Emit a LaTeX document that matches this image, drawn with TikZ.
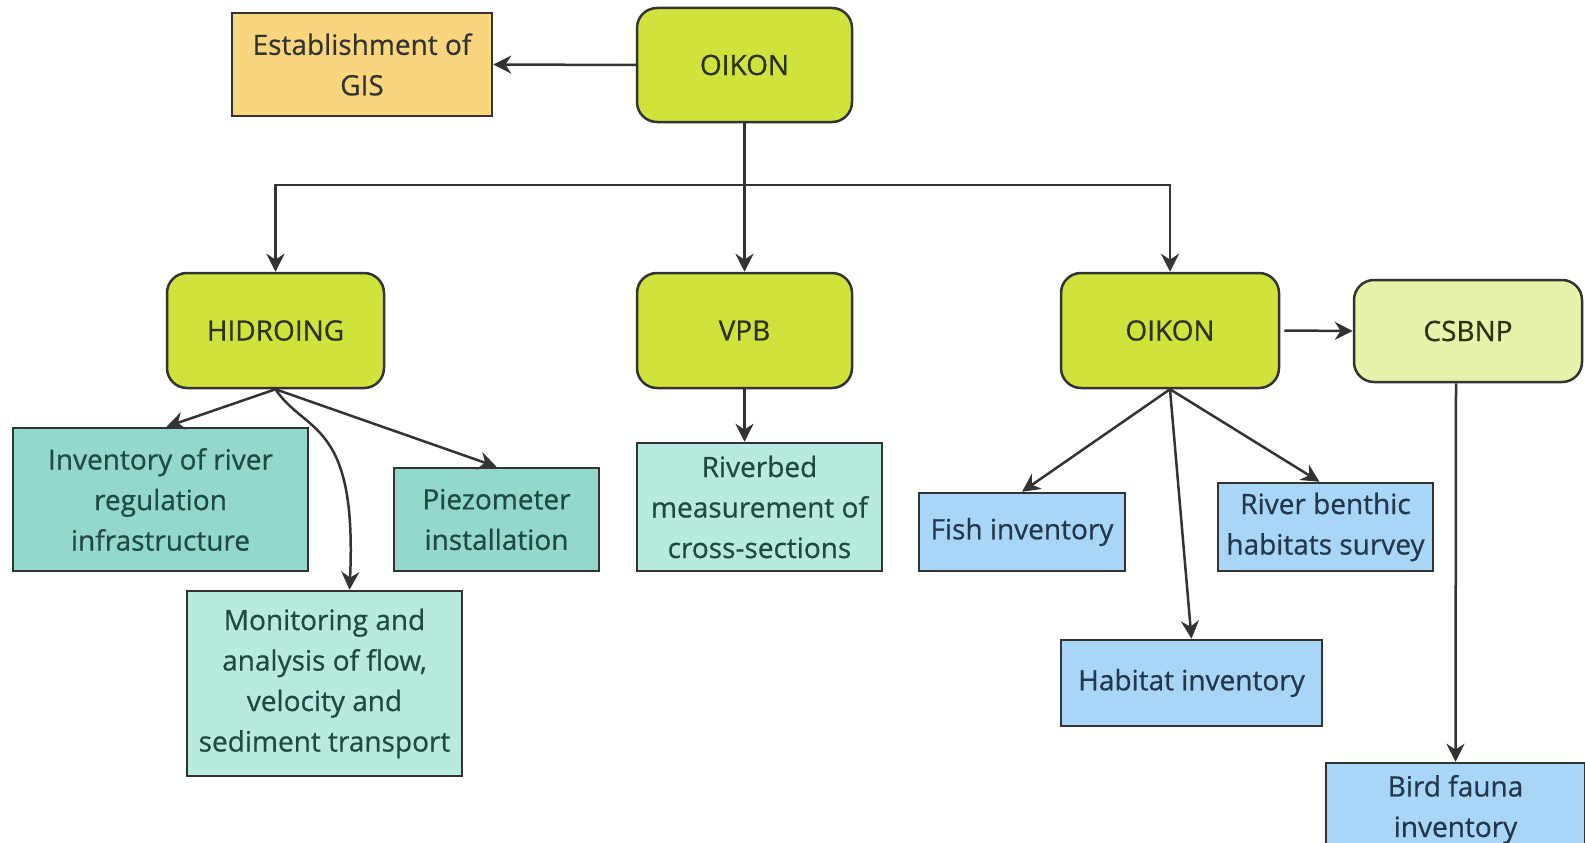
\documentclass[tikz,border=0pt]{standalone}
\usepackage{fontspec}
\setmainfont{Open Sans}[FakeBold=0.6]
\usepackage{tikz}
\usetikzlibrary{arrows.meta}

\definecolor{limegreen}{HTML}{D0E23C}
\definecolor{palelime}{HTML}{E7F3AB}
\definecolor{gisyellow}{HTML}{F9D67D}
\definecolor{darkteal}{HTML}{93D8CB}
\definecolor{lightteal}{HTML}{B8EAE0}
\definecolor{skyblue}{HTML}{A9D6F6}
\definecolor{edgegray}{HTML}{333333}
\definecolor{tealtext}{HTML}{1E4A42}
\definecolor{bluetext}{HTML}{22364D}
\definecolor{greentext}{HTML}{2A3312}

\begin{document}
\begin{tikzpicture}[x=1pt,y=-1pt,
	box/.style={draw=edgegray, line width=2.5pt, align=center, inner sep=0pt,
		font=\fontsize{28}{40.5}\selectfont},
	greenbox/.style={box, fill=limegreen, rounded corners=20pt, text=greentext},
	gisbox/.style={box, fill=gisyellow, text=black!80},
	tealbox/.style={box, fill=darkteal, text=tealtext},
	lighttealbox/.style={box, fill=lightteal, text=tealtext},
	bluebox/.style={box, fill=skyblue, text=bluetext},
	arr/.style={draw=edgegray, line width=2.5pt, -{Stealth[length=18pt,width=18pt]}}]
	\useasboundingbox (0,0) rectangle (1585,843);
	\node[gisbox, minimum width=260pt, minimum height=103pt] (gis) at (362,64.5) {Establishment of\\GIS};
	\node[greenbox, minimum width=215pt, minimum height=114pt] (oikonA) at (744.5,65) {OIKON};
	\node[greenbox, minimum width=217pt, minimum height=115pt] (hidroing) at (275.5,330.5) {HIDROING};
	\node[greenbox, minimum width=215pt, minimum height=115pt] (vpb) at (744.5,330.5) {VPB};
	\node[greenbox, minimum width=218pt, minimum height=115pt] (oikonB) at (1170,330.5) {OIKON};
	\node[greenbox, fill=palelime, minimum width=228pt, minimum height=102pt] (csbnp) at (1468,331) {CSBNP};
	
	\node[tealbox, minimum width=295pt, minimum height=143pt] (infra) at (160.5,499.5) {Inventory of river\\regulation\\infrastructure};
	\node[tealbox, minimum width=205pt, minimum height=103pt] (piezo) at (496.5,519.5) {Piezometer\\installation};
	\node[lighttealbox, minimum width=275pt, minimum height=185pt] (monit) at (324.5,683.5) {Monitoring and\\analysis of flow,\\velocity and\\sediment transport};
	\node[lighttealbox, minimum width=245pt, minimum height=128pt] (riverbed) at (759.5,507) {Riverbed\\measurement of\\cross-sections};
	
	\node[bluebox, minimum width=206pt, minimum height=78pt] (fish) at (1022,532) {Fish inventory};
	\node[bluebox, minimum width=215pt, minimum height=88pt] (benthic) at (1325.5,527) {River benthic\\habitats survey};
	\node[bluebox, minimum width=261pt, minimum height=86pt] (habitat) at (1191.5,683) {Habitat inventory};
	\node[bluebox, minimum width=259pt, minimum height=86pt, text depth=0pt] (bird) at (1455.5,806) {Bird fauna\\inventory};
	
	\coordinate (split) at (744.5,185);
	
	\draw[arr] (oikonA.west) -- (gis.east);
	\draw[arr] (oikonA.south) -- (vpb.north);
	\draw[arr] (split) -| (hidroing.north);
	\draw[arr] (split) -| (oikonB.north);
	
	\draw[arr] (hidroing.south) -- ([xshift=6pt]infra.north);
	\draw[arr] (hidroing.south) .. controls +(30,45) and +(8,-170) .. ([xshift=25pt]monit.north);
	\draw[arr] (hidroing.south) -- (piezo.north);
	\draw[arr] (vpb.south) -- ([xshift=-15pt]riverbed.north);
	
	\draw[arr] (oikonB.south) -- (fish.north);
	\draw[arr] (oikonB.south) -- (habitat.north);
	\draw[arr] (oikonB.south) -- ([xshift=-6pt]benthic.north);
	\draw[arr] ([xshift=4pt]oikonB.east) -- (csbnp.west);
	\draw[arr] ([xshift=-12pt]csbnp.south) -- (bird.north);
\end{tikzpicture}
\end{document}
